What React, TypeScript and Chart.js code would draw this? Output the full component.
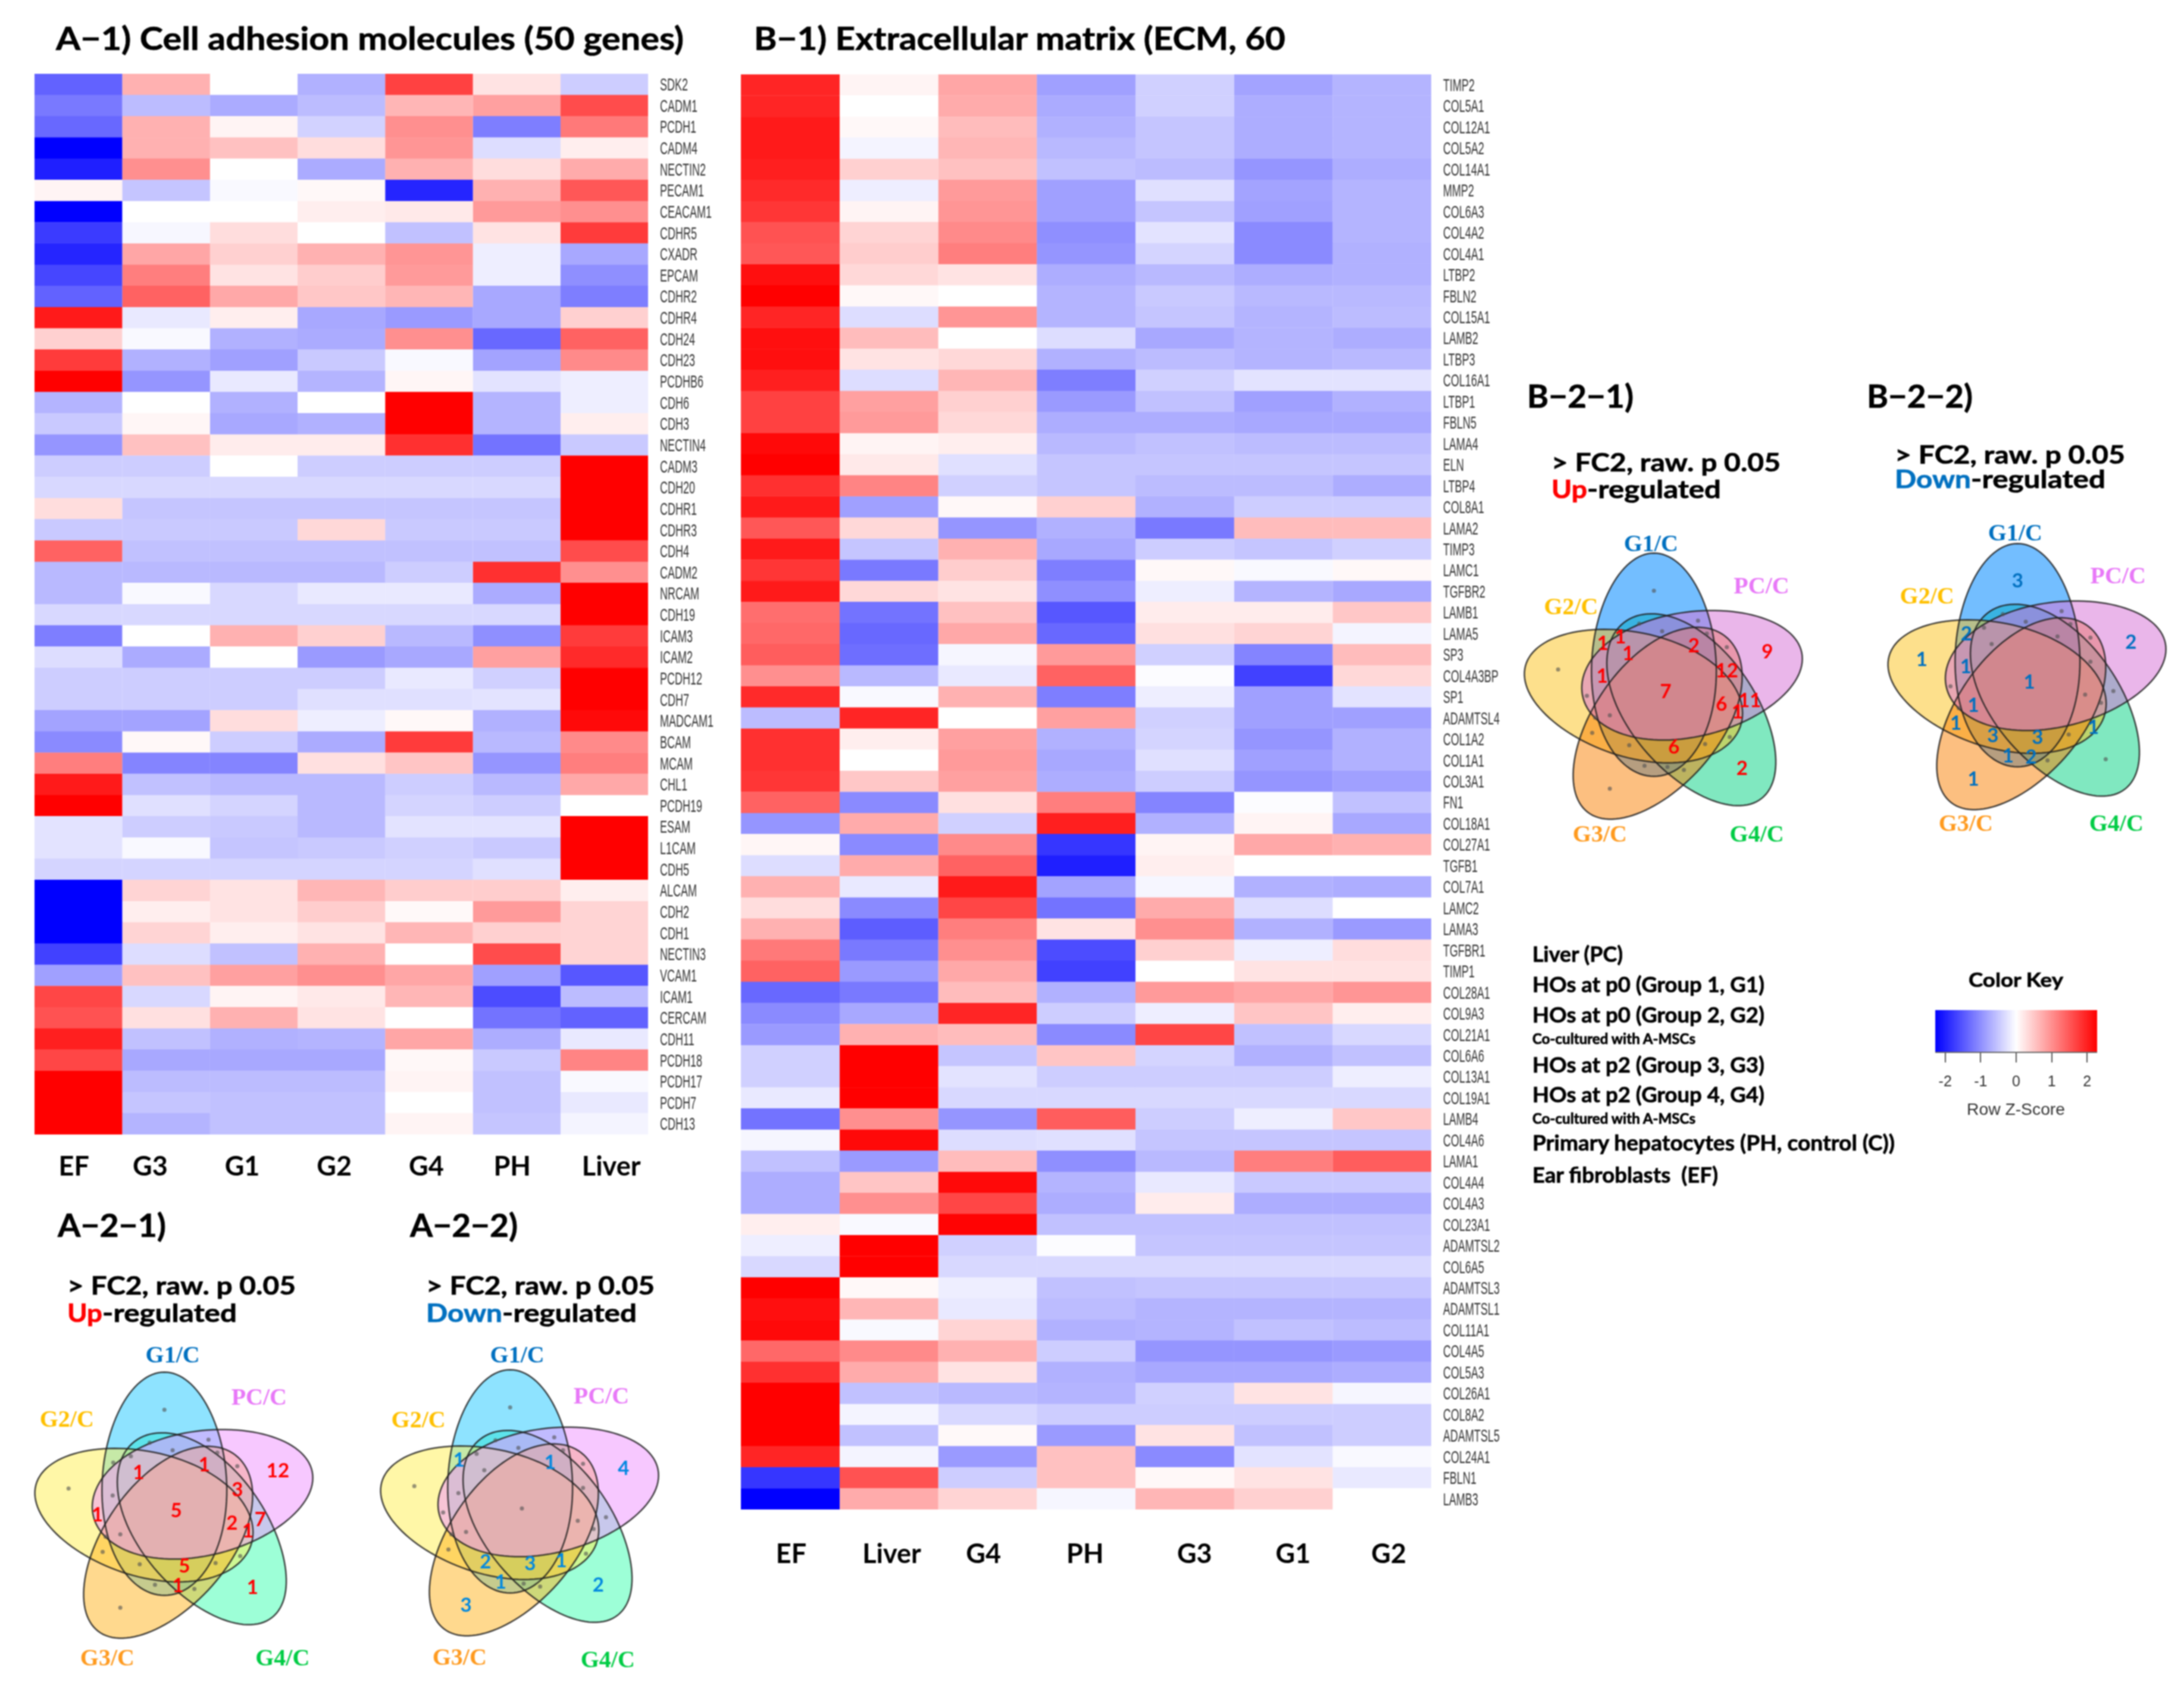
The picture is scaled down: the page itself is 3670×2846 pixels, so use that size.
import React, { useEffect, useRef } from "react";
import { Chart, registerables } from "chart.js";

Chart.register(...registerables);

// ---------- Heatmap A: cell adhesion molecules ----------
const genesA = ["SDK2","CADM1","PCDH1","CADM4","NECTIN2","PECAM1","CEACAM1","CDHR5","CXADR","EPCAM","CDHR2","CDHR4","CDH24","CDH23","PCDHB6","CDH6","CDH3","NECTIN4","CADM3","CDH20","CDHR1","CDHR3","CDH4","CADM2","NRCAM","CDH19","ICAM3","ICAM2","PCDH12","CDH7","MADCAM1","BCAM","MCAM","CHL1","PCDH19","ESAM","L1CAM","CDH5","ALCAM","CDH2","CDH1","NECTIN3","VCAM1","ICAM1","CERCAM","CDH11","PCDH18","PCDH17","PCDH7","CDH13"];
const columnsA = ["EF","G3","G1","G2","G4","PH","Liver"];
const zA_EF = [-1.4,-1.2,-1.35,-2.28,-2.0,.1,-2.28,-1.75,-1.95,-1.65,-1.4,2.05,.42,1.75,2.28,-.67,-.48,-.95,-.45,-.35,.3,-.48,1.4,-.63,-.63,-.35,-1.15,-.3,-.45,-.45,-.82,-1.05,1.15,2.05,2.28,-.25,-.25,-.38,-2.28,-2.28,-2.28,-1.7,-.85,1.65,1.55,2.0,1.65,2.28,2.28,2.28];
const zA_G3 = [.7,-.6,.7,.7,1.0,-.52,0,-.07,.8,1.15,1.4,-.2,-.05,-.7,-.95,0,.08,.55,-.45,-.35,-.52,-.48,-.55,-.63,-.05,-.35,0,-.75,-.45,-.45,-.82,.06,-1.1,-.55,-.28,-.45,-.05,-.38,.38,.15,.38,-.3,.55,-.35,.28,-.55,-.78,-.6,-.52,-.67];
const zA_G1 = [0,-.75,.1,.55,0,-.05,0,.3,.42,.25,.78,.15,-.7,-.85,-.2,-.7,-.78,.17,0,-.35,-.52,-.48,-.55,-.63,-.35,-.35,.7,0,-.45,-.45,.3,-.45,-1.1,-.63,-.38,-.48,-.52,-.38,.25,.25,.15,-.55,.85,.1,.7,-.7,-.78,-.6,-.55,-.55];
const zA_G2 = [-.7,-.6,-.4,.3,-.75,.06,.15,0,.7,.45,.5,-.78,-.75,-.48,-.67,0,-.7,.17,-.45,-.35,-.52,.35,-.55,-.63,-.2,-.35,.42,-.9,-.45,-.28,-.15,-.75,.28,-.63,-.63,-.63,-.48,-.38,.65,.45,.25,.7,1.0,.2,.25,-.67,-.78,-.6,-.55,-.55];
const zA_G4 = [1.7,.65,1.0,.95,.7,-1.95,.2,-.55,.95,.9,.65,-.9,1.0,-.05,.08,2.28,2.28,1.85,-.45,-.35,-.52,-.48,-.55,-.45,-.2,-.35,-.63,-.78,-.2,-.28,.06,1.75,.52,-.45,-.38,-.25,-.42,-.38,.45,.05,.65,0,.8,.65,0,.8,.06,.1,0,.1];
const zA_PH = [.25,.85,-1.15,-.3,.3,.7,.9,.25,-.15,-.15,-.78,-.78,-1.35,-.82,-.25,-.67,-.67,-1.25,-.45,-.35,-.52,-.48,-.55,1.85,-.75,-.35,-1.0,.85,-.42,-.25,-.7,-.63,-.95,-.63,-.45,-.25,-.48,-.28,.45,.9,.42,1.6,-.85,-1.6,-1.25,-.73,-.48,-.55,-.55,-.52];
const zA_Liver = [-.45,1.6,1.2,.15,.75,1.5,1.0,1.75,-.78,-1.0,-1.15,.42,1.4,1.05,-.15,-.15,.15,-.48,2.28,2.28,2.28,2.28,1.6,1.0,2.28,2.28,1.75,1.9,2.28,2.28,2.2,1.05,1.15,.78,0,2.28,2.28,2.28,.15,.38,.38,.38,-1.5,-.6,-1.4,-.2,1.1,-.05,-.2,-.1];
const seriesA = [zA_EF, zA_G3, zA_G1, zA_G2, zA_G4, zA_PH, zA_Liver];

// ---------- Heatmap B: extracellular matrix ----------
const genesB = ["TIMP2","COL5A1","COL12A1","COL5A2","COL14A1","MMP2","COL6A3","COL4A2","COL4A1","LTBP2","FBLN2","COL15A1","LAMB2","LTBP3","COL16A1","LTBP1","FBLN5","LAMA4","ELN","LTBP4","COL8A1","LAMA2","TIMP3","LAMC1","TGFBR2","LAMB1","LAMA5","SP3","COL4A3BP","SP1","ADAMTSL4","COL1A2","COL1A1","COL3A1","FN1","COL18A1","COL27A1","TGFB1","COL7A1","LAMC2","LAMA3","TGFBR1","TIMP1","COL28A1","COL9A3","COL21A1","COL6A6","COL13A1","COL19A1","LAMB4","COL4A6","LAMA1","COL4A4","COL4A3","COL23A1","ADAMTSL2","COL6A5","ADAMTSL3","ADAMTSL1","COL11A1","COL4A5","COL5A3","COL26A1","COL8A2","ADAMTSL5","COL24A1","FBLN1","LAMB3"];
const columnsB = ["EF","Liver","G4","PH","G3","G1","G2"];
const zB_EF = [1.95,1.95,2.05,2.05,2.0,1.9,1.8,1.55,1.5,2.15,2.28,1.95,2.15,2.15,2.0,1.7,1.7,2.2,2.28,1.85,2.05,1.5,2.05,1.8,2.05,1.3,1.35,1.45,1.0,1.9,-.6,1.85,1.85,1.8,1.4,-.95,.08,-.3,.7,.3,.7,1.2,1.4,-1.35,-1.05,-.9,-.42,-.42,-.2,-1.25,-.08,-.55,-.73,-.73,.15,-.15,-.35,2.28,2.15,2.2,1.35,1.85,2.28,2.28,2.28,1.95,-1.8,-2.28];
const zB_Liver = [.1,0,.06,-.1,.42,-.15,.1,.38,.45,.35,.06,-.3,.6,.25,-.3,.85,.9,.1,.2,1.1,-.85,.35,-.52,-1.2,.35,-1.25,-1.35,-1.3,-.63,-.05,1.95,.15,0,.5,-1.05,.75,-1.05,.75,-.2,-1.05,-1.45,-1.2,-.9,-1.2,-.78,.7,2.28,2.28,2.28,1.0,2.2,-.9,.52,1.0,-.05,2.28,2.28,.06,.65,-.05,1.05,.75,-.55,-.1,-.55,-.1,1.55,.75];
const zB_G4 = [.8,.75,.6,.65,.55,.9,.95,1.05,1.15,.25,0,.95,0,.35,.65,.42,.35,.15,-.28,-.42,.06,-.95,.7,.45,.25,.55,.78,-.08,-.2,.7,0,.85,.9,.85,.28,-.42,1.05,1.4,2.05,1.65,1.15,1.0,.78,.6,1.95,.6,-.52,-.25,-.35,-.95,-.3,.6,2.2,1.65,2.25,-.42,-.35,-.15,-.2,.38,.7,.25,-.63,-.35,.05,-.9,-.45,.38];
const zB_PH = [-.85,-.75,-.7,-.63,-.55,-.85,-.85,-1.0,-.95,-.73,-.67,-.67,-.3,-.7,-1.15,-.9,-.73,-.63,-.52,-.52,.42,-.7,-.78,-1.15,-1.0,-1.5,-1.35,.9,1.4,-1.15,.85,-.7,-.78,-.73,1.15,2.0,-1.8,-2.0,-.82,-1.25,.25,-1.6,-1.7,-.7,-.45,-1.05,.52,-.45,-.35,1.45,-.28,-1.0,-.67,-.73,-.55,-.03,-.35,-.55,-.6,-.7,-.45,-.7,-.67,-.45,-.9,.55,.55,-.08];
const zB_G3 = [-.42,-.42,-.52,-.52,-.6,-.28,-.52,-.25,-.38,-.63,-.48,-.52,-.78,-.6,-.42,-.55,-.73,-.55,-.52,-.6,-.7,-1.2,-.45,.06,-.15,.17,.28,-.42,-.03,-.15,-.42,-.38,-.28,-.45,-1.1,-.7,.1,.15,-.08,.75,1.0,.42,0,.9,-.15,1.65,-.38,-.45,-.35,-.45,-.52,-.63,-.2,.17,-.55,-.52,-.35,-.52,-.67,-.67,-.95,-.78,-.42,-.45,.25,-1.05,.06,.65];
const zB_G1 = [-.82,-.73,-.73,-.73,-.95,-.82,-.85,-1.05,-1.05,-.73,-.63,-.67,-.67,-.67,-.25,-.85,-.78,-.6,-.52,-.6,-.45,.6,-.52,-.05,-.67,.17,.38,-1.1,-1.7,-.85,-.85,-.95,-.85,-.95,-.03,.1,.78,0,-.7,-.3,-.7,-.15,.25,.8,.52,-.55,-.7,-.45,-.35,-.15,-.52,1.15,-.48,-.73,-.55,-.52,-.35,-.52,-.67,-.55,-.95,-.78,.25,-.45,-.55,-.25,.25,.42];
const zB_G2 = [-.67,-.67,-.67,-.67,-.73,-.67,-.67,-.67,-.7,-.7,-.63,-.6,-.73,-.63,-.25,-.7,-.78,-.6,-.52,-.73,-.45,.6,-.42,.06,-.78,.5,-.1,.6,.35,-.25,-.85,-.7,-.7,-.85,-.55,-.78,.7,0,-.73,0,-.9,.3,.25,.95,.15,-.35,-.55,-.15,-.35,.5,-.52,1.45,-.48,-.73,-.55,-.52,-.35,-.52,-.67,-.6,-.9,-.73,-.08,-.45,-.45,-.05,-.2,0];
const seriesB = [zB_EF, zB_Liver, zB_G4, zB_PH, zB_G3, zB_G1, zB_G2];

// ---------- Colour key ----------
const Z_LIMIT = 2.28;
const keyTicks = [-2, -1, 0, 1, 2];

// ---------- Venn counts, one entry per Venn region (0 = only the small dot) ----------
const countsA1 = [0,0,12,0,1,5,0,0,0,0,0,0,0,1,1,3,0,1,7,2,1,0,0,0,0,5,0,0,0,1,0];
const countsA2 = [0,0,4,3,2,0,0,0,1,0,0,0,0,0,1,0,0,0,0,0,0,0,0,0,2,3,1,0,1,0,0];
const countsB1 = [0,0,9,0,2,7,0,0,1,1,0,0,0,1,2,12,1,0,11,6,1,0,0,0,0,6,0,0,0,0,0];
const countsB2 = [3,1,2,1,0,1,0,0,2,0,0,0,0,0,0,0,1,0,0,0,0,0,1,1,3,3,0,1,1,2,0];
const setNames = ["G1/C", "G2/C", "G3/C", "G4/C", "PC/C"];

// ---------- Layout (kept apart from the values) ----------
const colTickPosA = [0.45, 1.32, 2.37, 3.42, 4.47, 5.45, 6.58];
const colTickPosB = [0.51, 1.53, 2.46, 3.49, 4.6, 5.6, 6.57];
const regionPlace: [number, number][] = [[-20,-187],[-183,-53],[173,-83],[-95,150],[130,116],[0,-15],[55,-136],[-45,-131],[-107,-97],[-77,-108],[-6,-118],[70,-114],[104,-91],[-64,-80],[48,-93],[104,-50],[-108,-41],[-134,-8],[143,0],[95,6],[122,20],[-120,29],[-95,25],[-125,55],[-62,76],[14,79],[67,74],[109,62],[-36,111],[3,113],[31,118]];
// petal shape in setNames order: clockwise turn from upright, and its centre offset
const petalTurns = [0, 285, 218, 142, 79];
const petalCentres: [number, number][] = [[-20,-61],[-55,-10],[-16,40],[46,17],[45,-45]];
const paintOrder = [3, 0, 1, 2, 4];
const labelPlaceA1: [number, number][] = [[-6,-278],[-186,-169],[-117,238],[181,238],[141,-206]];
const labelPlaceA2: [number, number][] = [[-8,-274],[-176,-163],[-106,241],[146,245],[135,-204]];
const labelPlaceB1: [number, number][] = [[-25,-265],[-161,-157],[-112,230],[155,230],[163,-193]];
const labelPlaceB2: [number, number][] = [[-24,-267],[-174,-159],[-108,228],[148,228],[151,-194]];
const labelColors = ["#0070c0", "#ffc000", "#ff9a1e", "#00cc44", "#e878f8"];
const paletteLight = ["rgba(30,200,255,.5)", "rgba(255,240,80,.5)", "rgba(255,180,30,.5)", "rgba(60,255,175,.5)", "rgba(240,150,255,.52)"];
const paletteDeep = ["rgba(0,137,255,.55)", "rgba(251,193,25,.5)", "rgba(249,127,1,.5)", "rgba(1,209,129,.5)", "rgba(215,115,215,.52)"];

const BOLD = "Lato, 'Open Sans', sans-serif";
const PLAIN = "'Liberation Sans', Arial, sans-serif";

function zColor(z: number) {
  const t = Math.min(1, Math.abs(z) / Z_LIMIT);
  const c = Math.round(255 * (1 - t));
  return z >= 0 ? `rgb(255,${c},${c})` : `rgb(${c},${c},255)`;
}

function noPadding(a: any) {
  a.paddingTop = 0; a.paddingBottom = 0; a.paddingLeft = 0; a.paddingRight = 0;
}

function Heatmap(props: { genes: string[]; columns: string[]; series: number[][]; tickPos: number[]; tickPad: number; left: number; top: number; plotW: number; plotH: number }) {
  const ref = useRef<HTMLCanvasElement>(null);
  const { genes, columns, series, tickPos, tickPad, left, top, plotW, plotH } = props;
  const axisW = 170;
  const axisH = 130;
  useEffect(() => {
    // gene names: placed by the category axis, squeezed like the narrow labels of the figure
    const squeezedTicks = {
      id: "squeezedTicks",
      afterDatasetsDraw(c: any) {
        const { ctx, scales: { y }, chartArea } = c;
        ctx.save();
        ctx.font = `30px ${PLAIN}`;
        ctx.fillStyle = "#333";
        ctx.textAlign = "left";
        ctx.textBaseline = "middle";
        genes.forEach((g, i) => {
          ctx.save();
          ctx.translate(chartArea.right + 20, y.getPixelForTick(i) + 2);
          ctx.scale(0.6, 1);
          ctx.fillText(g, 0, 0);
          ctx.restore();
        });
        ctx.restore();
      },
    };
    const chart = new Chart(ref.current!, {
      type: "bar",
      data: {
        labels: genes,
        datasets: series.map((col, i) => ({
          label: columns[i],
          data: col.map(() => 1),
          backgroundColor: col.map(zColor),
          borderColor: col.map(zColor),
          borderWidth: 0.6,
          categoryPercentage: 1,
          barPercentage: 1,
        })),
      },
      options: {
        indexAxis: "y",
        responsive: false,
        animation: false,
        devicePixelRatio: 1,
        layout: { padding: 0 },
        plugins: { legend: { display: false }, tooltip: { enabled: false } },
        scales: {
          x: {
            stacked: true, min: 0, max: 7,
            grid: { display: false }, border: { display: false },
            afterBuildTicks: (a: any) => { a.ticks = tickPos.map((value) => ({ value })); },
            afterFit: (a: any) => { a.height = axisH; noPadding(a); },
            ticks: { autoSkip: false, maxRotation: 0, padding: tickPad, color: "#000", font: { family: BOLD, size: 45, weight: "bold" }, callback: (_v: any, i: number) => columns[i] },
          },
          y: {
            stacked: true, position: "right",
            grid: { display: false }, border: { display: false },
            afterFit: (a: any) => { a.width = axisW; noPadding(a); },
            ticks: { display: false, autoSkip: false },
          },
        },
      } as any,
      plugins: [squeezedTicks],
    });
    return () => chart.destroy();
  }, []);
  return <canvas ref={ref} width={plotW + axisW} height={plotH + axisH} style={{ position: "absolute", left, top }} />;
}

function ColorKey() {
  const ref = useRef<HTMLCanvasElement>(null);
  useEffect(() => {
    const chart = new Chart(ref.current!, {
      type: "bar",
      data: {
        labels: ["Row Z-Score"],
        datasets: [{
          data: [[-Z_LIMIT, Z_LIMIT]],
          categoryPercentage: 1, barPercentage: 1,
          backgroundColor: (c: any) => {
            const area = c.chart.chartArea;
            if (!area) return "#fff";
            const g = c.chart.ctx.createLinearGradient(area.left, 0, area.right, 0);
            g.addColorStop(0, zColor(-Z_LIMIT));
            g.addColorStop(0.5, zColor(0));
            g.addColorStop(1, zColor(Z_LIMIT));
            return g;
          },
        }],
      },
      options: {
        indexAxis: "y", responsive: false, animation: false, devicePixelRatio: 1,
        layout: { padding: 0 },
        plugins: { legend: { display: false }, tooltip: { enabled: false } },
        scales: {
          x: {
            min: -Z_LIMIT, max: Z_LIMIT,
            afterBuildTicks: (a: any) => { a.ticks = keyTicks.map((value) => ({ value })); },
            afterFit: (a: any) => { a.height = 70; noPadding(a); },
            grid: { drawOnChartArea: false, drawTicks: true, tickLength: 18, color: "#555", lineWidth: 2 },
            border: { display: true, color: "#666", width: 4 },
            ticks: { padding: 18, color: "#333", font: { family: PLAIN, size: 25 }, callback: (v: any) => String(v) },
          },
          y: { display: false },
        },
      } as any,
    });
    return () => chart.destroy();
  }, []);
  return <canvas ref={ref} width={272} height={140} style={{ position: "absolute", left: 3252, top: 1697 }} />;
}

function Venn(props: { cx: number; cy: number; counts: number[]; palette: string[]; labelPlace: [number, number][]; countColor: string }) {
  const ref = useRef<HTMLCanvasElement>(null);
  const { cx, cy, counts, palette, labelPlace, countColor } = props;
  const HW = 330;
  const HH = 310;
  useEffect(() => {
    const petalPath = (c: any, k: number) => {
      const { ctx, scales: { x, y } } = c;
      const th = (petalTurns[k] * Math.PI) / 180;
      const cs = Math.cos(th);
      const sn = Math.sin(th);
      const [ox, oy] = petalCentres[k];
      ctx.beginPath();
      for (let i = 0; i <= 120; i++) {
        const t = (i / 120) * 2 * Math.PI;
        const ux = 106 * Math.sin(t) * (1 - 0.06 * Math.cos(t));
        const uy = -190 * Math.cos(t);
        const px = x.getPixelForValue(ox + ux * cs - uy * sn);
        const py = y.getPixelForValue(oy + ux * sn + uy * cs);
        if (i === 0) ctx.moveTo(px, py); else ctx.lineTo(px, py);
      }
      ctx.closePath();
    };
    const petals = {
      id: "petals",
      beforeDatasetsDraw(c: any) {
        const { ctx } = c;
        paintOrder.forEach((k) => {
          petalPath(c, k);
          ctx.fillStyle = palette[k];
          ctx.fill();
        });
        paintOrder.forEach((k) => {
          petalPath(c, k);
          ctx.strokeStyle = "rgba(30,30,30,.85)";
          ctx.lineWidth = 2.5;
          ctx.stroke();
        });
      },
      afterDatasetsDraw(c: any) {
        const { ctx, scales: { x, y } } = c;
        ctx.save();
        ctx.textAlign = "center";
        ctx.textBaseline = "middle";
        ctx.font = `bold 33px ${BOLD}`;
        ctx.fillStyle = countColor;
        counts.forEach((n, i) => {
          if (n > 0) ctx.fillText(String(n), x.getPixelForValue(regionPlace[i][0]), y.getPixelForValue(regionPlace[i][1]));
        });
        ctx.font = "bold 40px 'Liberation Serif', serif";
        setNames.forEach((name, i) => {
          ctx.fillStyle = labelColors[i];
          ctx.fillText(name, x.getPixelForValue(labelPlace[i][0]), y.getPixelForValue(labelPlace[i][1]));
        });
        ctx.restore();
      },
    };
    const chart = new Chart(ref.current!, {
      type: "scatter",
      data: {
        datasets: [{
          data: regionPlace.filter((_, i) => counts[i] === 0).map(([px, py]) => ({ x: px, y: py })),
          pointRadius: 3.5, pointBorderWidth: 0,
          pointBackgroundColor: "rgba(80,80,80,.6)",
        }],
      },
      options: {
        responsive: false, animation: false, devicePixelRatio: 1,
        layout: { padding: 0 },
        plugins: { legend: { display: false }, tooltip: { enabled: false } },
        scales: {
          x: { display: false, min: -HW, max: HW },
          y: { display: false, min: -HH, max: HH, reverse: true },
        },
      } as any,
      plugins: [petals],
    });
    return () => chart.destroy();
  }, []);
  return <canvas ref={ref} width={HW * 2} height={HH * 2} style={{ position: "absolute", left: cx - HW, top: cy - HH }} />;
}

type T = { s: string; x: number; r: number; y: number; size: number; fill?: string; family?: string; weight?: string };
const texts: T[] = [
  { s: "A\u22121) Cell adhesion molecules (50 genes)", x: 94, r: 1149, y: 84, size: 53 },
  { s: "B\u22121) Extracellular matrix (ECM, 60", x: 1267, r: 2160, y: 84, size: 53 },
  { s: "A\u22122\u22121)", x: 97, r: 279, y: 2078, size: 53 },
  { s: "A\u22122\u22122)", x: 689, r: 870, y: 2078, size: 53 },
  { s: "B\u22122\u22121)", x: 2566, r: 2745, y: 685, size: 53 },
  { s: "B\u22122\u22122)", x: 3137, r: 3315, y: 685, size: 53 },
  { s: "> FC2, raw. p 0.05", x: 113, r: 497, y: 2175, size: 42 },
  { s: "Up", x: 113, r: 172, y: 2221, size: 42, fill: "#ff0000" },
  { s: "-regulated", x: 172, r: 398, y: 2221, size: 42 },
  { s: "> FC2, raw. p 0.05", x: 716, r: 1100, y: 2175, size: 42 },
  { s: "Down", x: 716, r: 844, y: 2221, size: 42, fill: "#0070c0" },
  { s: "-regulated", x: 844, r: 1070, y: 2221, size: 42 },
  { s: "> FC2, raw. p 0.05", x: 2607, r: 2992, y: 792, size: 42 },
  { s: "Up", x: 2607, r: 2667, y: 837, size: 42, fill: "#ff0000" },
  { s: "-regulated", x: 2667, r: 2892, y: 837, size: 42 },
  { s: "> FC2, raw. p 0.05", x: 3184, r: 3571, y: 779, size: 42 },
  { s: "Down", x: 3184, r: 3312, y: 820, size: 42, fill: "#0070c0" },
  { s: "-regulated", x: 3312, r: 3538, y: 820, size: 42 },
  { s: "Liver (PC)", x: 2575, r: 2727, y: 1616, size: 37 },
  { s: "HOs at p0 (Group 1, G1)", x: 2575, r: 2965, y: 1667, size: 37 },
  { s: "HOs at p0 (Group 2, G2)", x: 2575, r: 2965, y: 1718, size: 37 },
  { s: "Co-cultured with A-MSCs", x: 2575, r: 2849, y: 1754, size: 24 },
  { s: "HOs at p2 (Group 3, G3)", x: 2575, r: 2965, y: 1802, size: 37 },
  { s: "HOs at p2 (Group 4, G4)", x: 2575, r: 2965, y: 1852, size: 37 },
  { s: "Co-cultured with A-MSCs", x: 2575, r: 2849, y: 1888, size: 24 },
  { s: "Primary hepatocytes (PH, control (C))", x: 2575, r: 3184, y: 1933, size: 37 },
  { s: "Ear fibroblasts  (EF)", x: 2575, r: 2887, y: 1987, size: 37 },
  { s: "Color Key", x: 3308, r: 3467, y: 1658, size: 32 },
  { s: "Row Z-Score", x: 3305, r: 3470, y: 1873, size: 27, family: PLAIN, weight: "normal", fill: "#333" },
];

function Annotations() {
  return (
    <svg width={3670} height={2846} style={{ position: "absolute", left: 0, top: 0, pointerEvents: "none" }}>
      {texts.map((t, i) => (
        <text key={i} x={t.x} y={t.y} textLength={t.r - t.x} lengthAdjust="spacingAndGlyphs" fontFamily={t.family ?? BOLD} fontWeight={t.weight ?? "bold"} fontSize={t.size} fill={t.fill ?? "#000"} stroke={t.weight ? "none" : (t.fill ?? "#000")} strokeWidth={0.7} xmlSpace="preserve">
          {t.s}
        </text>
      ))}
    </svg>
  );
}

export default function App() {
  return (
    <div style={{ position: "absolute", left: 0, top: 0, width: 3670, height: 2846, overflow: "hidden", background: "#fff", filter: "blur(0.8px)" }}>
      <Heatmap genes={genesA} columns={columnsA} series={seriesA} tickPos={colTickPosA} tickPad={19} left={58} top={124} plotW={1031} plotH={1782} />
      <Heatmap genes={genesB} columns={columnsB} series={seriesB} tickPos={colTickPosB} tickPad={40} left={1245} top={125} plotW={1160} plotH={2411} />
      <Venn cx={296} cy={2553} counts={countsA1} palette={paletteLight} labelPlace={labelPlaceA1} countColor="#ff0000" />
      <Venn cx={877} cy={2549} counts={countsA2} palette={paletteLight} labelPlace={labelPlaceA2} countColor="#0088e0" />
      <Venn cx={2799} cy={1177} counts={countsB1} palette={paletteDeep} labelPlace={labelPlaceB1} countColor="#ff0000" />
      <Venn cx={3410} cy={1161} counts={countsB2} palette={paletteDeep} labelPlace={labelPlaceB2} countColor="#0070c0" />
      <ColorKey />
      <Annotations />
    </div>
  );
}
